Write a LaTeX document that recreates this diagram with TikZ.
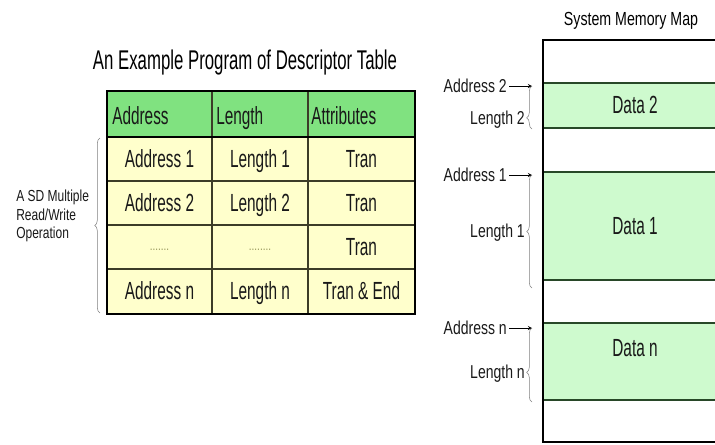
\documentclass[tikz,border=0pt]{standalone}
\usepackage{fontspec}
\setmainfont{Liberation Sans}[FakeStretch=0.62]
\newfontfamily\mapfont{Liberation Sans}[FakeStretch=0.75]
\usepackage{tikz}
\usetikzlibrary{arrows, positioning, decorations.pathreplacing}

\definecolor{HeadGreen}{RGB}{128,226,128}
\definecolor{RowYellow}{RGB}{255,255,204}
\definecolor{DataGreen}{RGB}{206,250,206}
\definecolor{LineGreen}{RGB}{40,72,40}
\definecolor{GridOlive}{RGB}{60,60,40}
\definecolor{DotOlive}{RGB}{150,150,90}

\begin{document}
\begin{tikzpicture}[x=0.75pt, y=-0.75pt, >=stealth,
    cell/.style={inner sep=0pt, text height=13.3pt, text depth=0pt, text=black!90, font=\fontsize{18.6}{22}\selectfont},
    head/.style={cell, anchor=west},
    lbl/.style={inner sep=0pt, text height=10pt, text depth=0pt, anchor=east, text=black!90, font=\mapfont\fontsize{14}{17}\selectfont},
    grid line/.style={draw=GridOlive, line width=1.1pt},
    memline/.style={draw=LineGreen, line width=1.5pt},
    gbrace/.style={decorate, decoration={brace, amplitude=4pt, aspect=#1}, draw=gray, thin},
    gbrace/.default=0.5]
    \useasboundingbox (0,0) rectangle (715,444);

    % descriptor table
    \node[inner sep=0pt, font=\fontsize{20.3}{24}\selectfont] (ttl) at (245,62) {An Example Program of Descriptor Table};
    \fill[HeadGreen] (107,91) rectangle (415,137);
    \fill[RowYellow] (107,137) rectangle (415,314);
    \foreach \y in {181,225,269} \draw[grid line] (107,\y) -- (415,\y);
    \foreach \x in {212,308} \draw[grid line] (\x,91) -- (\x,314);
    \draw[line width=1.6pt] (107,137) -- (415,137);
    \draw[line width=2pt] (107,91) rectangle (415,314);

    \node[head] (hAddr) at (112,116) {Address};
    \node[head] (hLen) at (216,116) {Length};
    \node[head] (hAttr) at (311,116) {Attributes};

    \foreach \a/\l/\t/\y [count=\i] in {Address 1/Length 1/Tran/159, Address 2/Length 2/Tran/203, Address n/Length n/Tran \& End/291} {
        \node[cell] (addr\i) at (159.5,\y) {\a};
        \node[cell] (len\i) at (260,\y) {\l};
        \node[cell] (attr\i) at (361.5,\y) {\t};
    }
    \node[cell] (attrd) at (361.5,247) {Tran};
    \node[inner sep=0pt, text=DotOlive, font=\mapfont\fontsize{10}{12}\selectfont] (addrd) at (159.5,250) {.......};
    \node[inner sep=0pt, text=DotOlive, font=\mapfont\fontsize{10}{12}\selectfont] (lend) at (260,250) {........};

    \coordinate (tbTop) at (100,138);
    \coordinate (tbBot) at (100,313);
    \draw[gbrace] (tbBot) -- (tbTop);
    \node[inner sep=0pt, anchor=west, align=left, text=black!90, font=\mapfont\fontsize{12}{14}\selectfont] (ops) at (16,216) {A SD Multiple\\Read/Write\\Operation};

    % system memory map
    \node[inner sep=0pt, font=\mapfont\fontsize{14.2}{17}\selectfont] (maptitle) at (631,21) {System Memory Map};
    \fill[DataGreen] (543,83) rectangle (720,128);
    \fill[DataGreen] (543,172) rectangle (720,280);
    \fill[DataGreen] (543,323) rectangle (720,400);
    \foreach \y in {83,128,172,280,323,400} \draw[memline] (543,\y) -- (720,\y);
    \draw[line width=2.2pt] (720,40) -- (543,40) -- (543,442) -- (720,442);

    \node[cell] (data2) at (635,105) {Data 2};
    \node[cell] (data1) at (635,226) {Data 1};
    \node[cell] (datan) at (635,348) {Data n};

    \coordinate (a2) at (532,86);   \coordinate (e2) at (532,129);
    \coordinate (a1) at (532,175);  \coordinate (e1) at (532,288);
    \coordinate (an) at (532,328);  \coordinate (en) at (532,402);

    \node[lbl] (addr2m) at (507,86) {Address 2};
    \node[lbl] (len2m) at (525,118) {Length 2};
    \node[lbl] (addr1m) at (507,175) {Address 1};
    \node[lbl] (len1m) at (525,231) {Length 1};
    \node[lbl] (addrnm) at (507,328) {Address n};
    \node[lbl] (lennm) at (525,372) {Length n};

    \draw[->, thin] (addr2m.east) ++(2,0) -- (a2);
    \draw[->, thin] (addr1m.east) ++(2,0) -- (a1);
    \draw[->, thin] (addrnm.east) ++(2,0) -- (an);
    \draw[gbrace=0.26] (e2) -- (a2);
    \draw[gbrace] (e1) -- (a1);
    \draw[gbrace=0.4] (en) -- (an);
\end{tikzpicture}
\end{document}
